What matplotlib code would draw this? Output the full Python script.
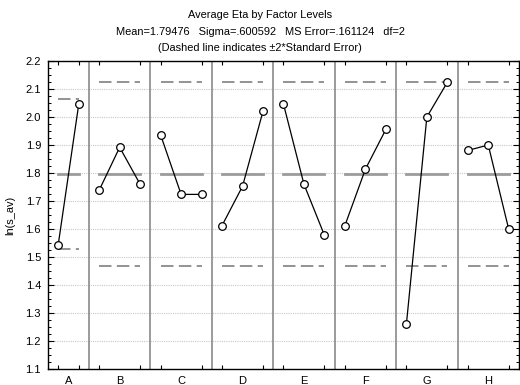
import numpy as np
import matplotlib
matplotlib.use("Agg")
import matplotlib.pyplot as plt
from matplotlib.ticker import MultipleLocator

plt.rcParams['font.family'] = ['Liberation Sans', 'DejaVu Sans']

# factor names and mean eta (ln(s_av)) at each level
factors = ['A', 'B', 'C', 'D', 'E', 'F', 'G', 'H']
level_means = [
    [1.544, 2.044],
    [1.738, 1.891, 1.759],
    [1.935, 1.723, 1.723],
    [1.612, 1.752, 2.020],
    [2.045, 1.759, 1.577],
    [1.612, 1.813, 1.955],
    [1.259, 1.999, 2.123],
    [1.880, 1.899, 1.598],
]
# runs per level (L18 design)
n_per_level = [9, 6, 6, 6, 6, 6, 6, 6]

grand_mean = 1.79476
sigma = 0.600592
ms_error = 0.161124
df = 2

fig = plt.figure(figsize=(5.2, 3.85), dpi=100)
ax = fig.add_axes([48 / 520, 1 - 369 / 385, 471 / 520, 308.3 / 385])

grid_col = '#c8c8c8'
for yv in np.arange(1.2, 2.2, 0.1):
    ax.axhline(yv, color=grid_col, lw=0.8, ls=(0, (1, 1)), zorder=0)

pos = 0.5
centers = []
point_x = []
for i, vals in enumerate(level_means):
    k = len(vals)
    xs = np.arange(1, k + 1) + pos - 0.5
    point_x.extend(xs)
    centers.append(pos + k / 2)
    se2 = 2 * np.sqrt(ms_error / n_per_level[i])
    ax.plot([xs[0], xs[-1]], [grand_mean, grand_mean], color='#9c9c9c', lw=2.0, zorder=2)
    for yv in (grand_mean + se2, grand_mean - se2):
        ax.plot([xs[0], xs[-1]], [yv, yv], color='#808080', lw=1.2,
                ls=(0, (7.5, 3.2)), zorder=2)
    ax.plot(xs, vals, color='black', lw=0.9, marker='o', ms=5.5,
            mfc='white', mec='black', mew=0.9, zorder=3)
    pos += k
    if i < len(level_means) - 1:
        ax.axvline(pos, color='#8a8a8a', lw=1.2, zorder=1)

ax.set_xlim(0.5, pos)
ax.set_ylim(1.1, 2.2)
ax.set_xticks(centers)
ax.set_xticklabels(factors)
ax.set_xticks(point_x, minor=True)
ax.yaxis.set_major_locator(MultipleLocator(0.1))
ax.yaxis.set_minor_locator(MultipleLocator(0.025))
ax.yaxis.set_major_formatter(matplotlib.ticker.FormatStrFormatter('%.1f'))
ax.tick_params(axis='x', which='major', length=0, pad=5, labelsize=8)
ax.tick_params(axis='x', which='minor', direction='in', length=3, top=True, width=0.8)
ax.tick_params(axis='y', which='major', direction='in', length=4, right=True,
               width=0.8, pad=5, labelsize=8)
ax.tick_params(axis='y', which='minor', direction='in', length=2.5, right=True, width=0.7)
for s in ax.spines.values():
    s.set_linewidth(1.0)

fig.text(10 / 520, 1 - 215 / 385, 'ln(s_av)', rotation=90, ha='center', va='center', fontsize=7.9)

fig.text(0.5, 1 - 15 / 385, 'Average Eta by Factor Levels', ha='center', va='center', fontsize=7.9)
fig.text(0.5, 1 - 32 / 385,
         'Mean=1.79476   Sigma=.600592   MS Error=.161124   df=2',
         ha='center', va='center', fontsize=7.9)
fig.text(0.5, 1 - 48 / 385, '(Dashed line indicates \u00b12*Standard Error)',
         ha='center', va='center', fontsize=7.9)

fig.savefig('out.png', dpi=100)
